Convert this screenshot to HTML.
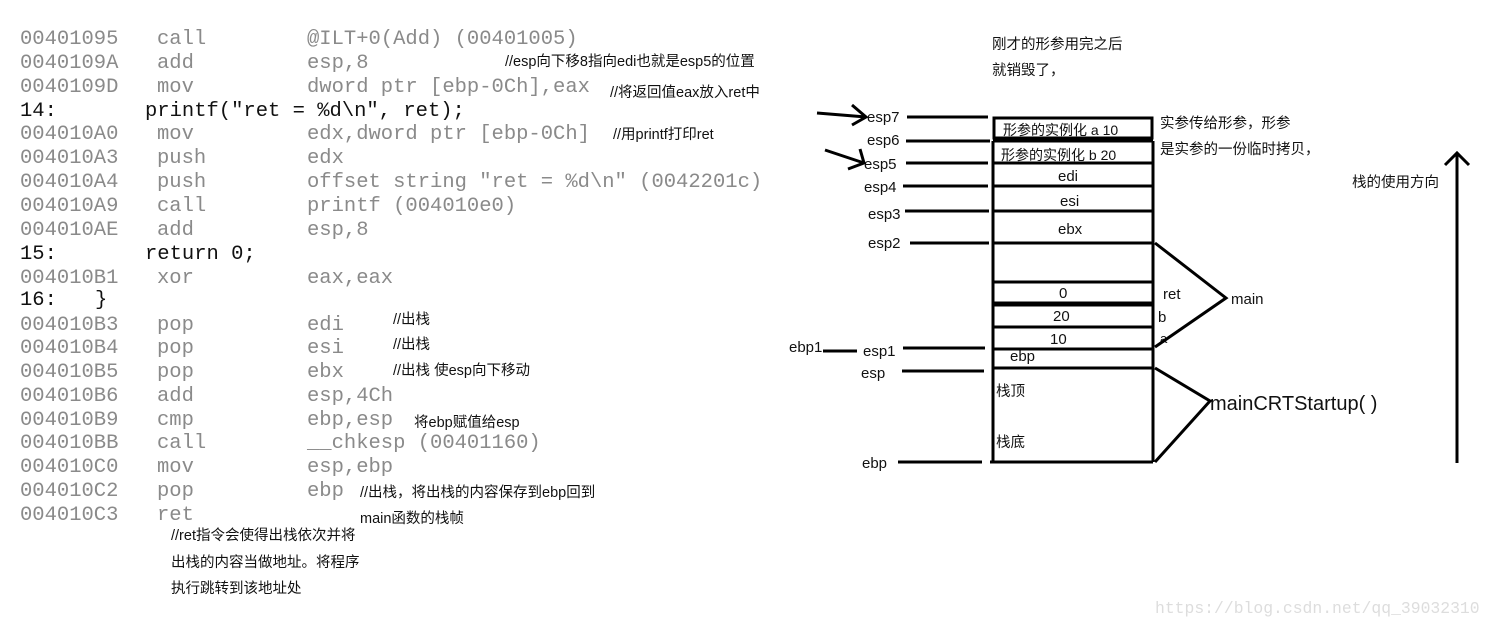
<!DOCTYPE html>
<html><head><meta charset="utf-8"><style>
html,body{margin:0;padding:0;background:#fff;width:1496px;height:627px;overflow:hidden}
svg{display:block}
.c{font-family:"Liberation Mono",monospace;font-size:20.5px;fill:#8a8a8a}
.k{fill:#111}
.z{font-family:"Liberation Sans","Noto Sans CJK SC",sans-serif;font-size:14.5px;fill:#111}
.l{font-family:"Liberation Sans","Noto Sans CJK SC",sans-serif;font-size:15px;fill:#111}
</style></head><body>
<svg width="1496" height="627" viewBox="0 0 1496 627" xmlns="http://www.w3.org/2000/svg">
<g class="c">
<text x="20" y="44">00401095</text><text x="157" y="44">call</text><text x="307" y="44">@ILT+0(Add) (00401005)</text>
<text x="20" y="68">0040109A</text><text x="157" y="68">add</text><text x="307" y="68">esp,8</text>
<text x="20" y="92">0040109D</text><text x="157" y="92">mov</text><text x="307" y="92">dword ptr [ebp-0Ch],eax</text>
<text x="20" y="116" class="k">14:</text><text x="145" y="116" class="k">printf("ret = %d\n", ret);</text>
<text x="20" y="139">004010A0</text><text x="157" y="139">mov</text><text x="307" y="139">edx,dword ptr [ebp-0Ch]</text>
<text x="20" y="163">004010A3</text><text x="157" y="163">push</text><text x="307" y="163">edx</text>
<text x="20" y="187">004010A4</text><text x="157" y="187">push</text><text x="307" y="187">offset string "ret = %d\n" (0042201c)</text>
<text x="20" y="211">004010A9</text><text x="157" y="211">call</text><text x="307" y="211">printf (004010e0)</text>
<text x="20" y="235">004010AE</text><text x="157" y="235">add</text><text x="307" y="235">esp,8</text>
<text x="20" y="259" class="k">15:</text><text x="145" y="259" class="k">return 0;</text>
<text x="20" y="283">004010B1</text><text x="157" y="283">xor</text><text x="307" y="283">eax,eax</text>
<text x="20" y="305" class="k">16:</text><text x="95" y="305" class="k">}</text>
<text x="20" y="330">004010B3</text><text x="157" y="330">pop</text><text x="307" y="330">edi</text>
<text x="20" y="353">004010B4</text><text x="157" y="353">pop</text><text x="307" y="353">esi</text>
<text x="20" y="377">004010B5</text><text x="157" y="377">pop</text><text x="307" y="377">ebx</text>
<text x="20" y="401">004010B6</text><text x="157" y="401">add</text><text x="307" y="401">esp,4Ch</text>
<text x="20" y="425">004010B9</text><text x="157" y="425">cmp</text><text x="307" y="425">ebp,esp</text>
<text x="20" y="448">004010BB</text><text x="157" y="448">call</text><text x="307" y="448">__chkesp (00401160)</text>
<text x="20" y="472">004010C0</text><text x="157" y="472">mov</text><text x="307" y="472">esp,ebp</text>
<text x="20" y="496">004010C2</text><text x="157" y="496">pop</text><text x="307" y="496">ebp</text>
<text x="20" y="520">004010C3</text><text x="157" y="520">ret</text>
</g>
<g class="z">
<text x="505" y="66">//esp向下移8指向edi也就是esp5的位置</text>
<text x="610" y="97">//将返回值eax放入ret中</text>
<text x="613" y="139">//用printf打印ret</text>
<text x="393" y="324">//出栈</text>
<text x="393" y="349">//出栈</text>
<text x="393" y="375">//出栈  使esp向下移动</text>
<text x="414" y="427">将ebp赋值给esp</text>
<text x="360" y="497">//出栈，将出栈的内容保存到ebp回到</text>
<text x="360" y="523">main函数的栈帧</text>
<text x="171" y="540">//ret指令会使得出栈依次并将</text>
<text x="171" y="567">出栈的内容当做地址。将程序</text>
<text x="171" y="593">执行跳转到该地址处</text>
<text x="992" y="49">刚才的形参用完之后</text>
<text x="992" y="75">就销毁了，</text>
<text x="1160" y="128">实参传给形参，形参</text>
<text x="1160" y="154">是实参的一份临时拷贝，</text>
<text x="1352" y="187">栈的使用方向</text>
<text x="1003" y="135" style="font-size:14px">形参的实例化 a 10</text>
<text x="1001" y="160" style="font-size:14px">形参的实例化 b 20</text>
<text x="996" y="396">栈顶</text>
<text x="996" y="447">栈底</text>
</g>
<g class="l">
<text x="867" y="122">esp7</text><text x="867" y="145">esp6</text><text x="864" y="169">esp5</text>
<text x="864" y="192">esp4</text><text x="868" y="219">esp3</text><text x="868" y="248">esp2</text>
<text x="863" y="356">esp1</text><text x="861" y="378">esp</text><text x="862" y="468">ebp</text>
<text x="789" y="352">ebp1</text>
<text x="1058" y="181">edi</text><text x="1060" y="206">esi</text><text x="1058" y="234">ebx</text>
<text x="1059" y="298">0</text><text x="1053" y="321">20</text><text x="1050" y="344">10</text>
<text x="1010" y="361">ebp</text>
<text x="1163" y="299">ret</text><text x="1158" y="322">b</text><text x="1160" y="343" style="font-size:13px">a</text>
<text x="1231" y="304">main</text>
<text x="1210" y="410" style="font-size:20px">mainCRTStartup( )</text>
</g>
<g stroke="#000" stroke-width="3" fill="none">
<rect x="994" y="118" width="158" height="20"/>
<path d="M993 141H1153M993 141V462M1153 141V462M993 163H1153M993 186H1153M993 211H1153M993 243H1153M993 282H1153M993 303H1153M993 305H1153M993 327H1153M993 349H1153M993 368H1153M990 462H1153"/>
<path d="M907 117H988M906 141H990M906 163H988M903 186H988M905 211H989M910 243H989M903 348H985M823 351H857M902 371H984M898 462H982"/>
<path d="M1155 243L1226 298L1155 347M1155 368L1210 401L1155 462"/>
<path d="M817 113L866 117M852 105L866 117L852 125M825 150L864 163M860 149L864 163L848 169"/>
<path d="M1457 463V153M1445 165L1457 153L1469 165"/>
</g>
<text x="1155" y="613" style="font-family:'Liberation Mono',monospace;font-size:16.4px;fill:#ddd">https://blog.csdn.net/qq_39032310</text>
</svg>
</body></html>
